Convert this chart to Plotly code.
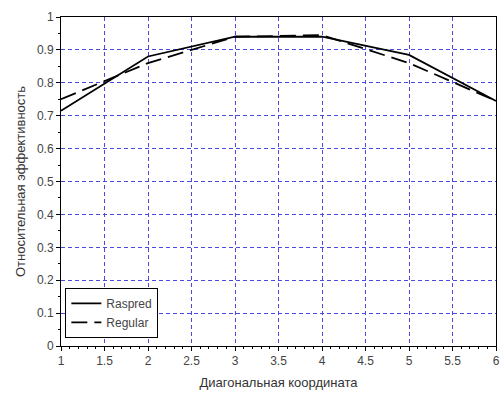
import plotly.graph_objects as go

x_vals = [1, 2, 3, 4, 5, 6]
raspred = [0.715, 0.88, 0.94, 0.94, 0.885, 0.745]
regular = [0.75, 0.86, 0.94, 0.945, 0.86, 0.745]
x_ticks = [1, 1.5, 2, 2.5, 3, 3.5, 4, 4.5, 5, 5.5, 6]
x_tick_text = ["1", "1.5", "2", "2.5", "3", "3.5", "4", "4.5", "5", "5.5", "6"]
y_ticks = [0, 0.1, 0.2, 0.3, 0.4, 0.5, 0.6, 0.7, 0.8, 0.9, 1]
y_tick_text = ["0", "0.1", "0.2", "0.3", "0.4", "0.5", "0.6", "0.7", "0.8", "0.9", "1"]

fig = go.Figure()
fig.add_trace(go.Scatter(x=x_vals, y=raspred, mode="lines", name="Raspred",
                         line=dict(color="black", width=1.8, dash="solid")))
fig.add_trace(go.Scatter(x=x_vals, y=regular, mode="lines", name="Regular",
                         line=dict(color="black", width=1.8, dash="16px,7px")))

font = dict(family="Liberation Sans, Arial, sans-serif", size=12, color="#444444")
tfont = dict(family="Liberation Sans, Arial, sans-serif", size=13, color="#333333")

fig.update_layout(
    width=503, height=395,
    margin=dict(l=61, r=7, t=17, b=49),
    paper_bgcolor="white", plot_bgcolor="white",
    font=font,
    showlegend=True,
    legend=dict(x=0.01, y=0.025, xanchor="left", yanchor="bottom",
                bgcolor="white", bordercolor="black", borderwidth=1,
                font=dict(family="Liberation Sans, Arial, sans-serif", size=12, color="#444444"),
                itemwidth=30, tracegroupgap=2),
    xaxis=dict(range=[1, 6], tickvals=x_ticks, ticktext=x_tick_text, automargin=False,
               showgrid=True, gridcolor="#4a4ae0", griddash="4px,3px", gridwidth=1,
               showline=True, linecolor="black", linewidth=1, mirror=True,
               ticks="outside", ticklen=4, tickcolor="black",
               minor=dict(dtick=0.1, ticks="outside", ticklen=2, tickcolor="black", showgrid=False),
               zeroline=False,
               title=dict(text="Диагональная координата", standoff=10, font=tfont)),
    yaxis=dict(range=[0, 1], tickvals=y_ticks, ticktext=y_tick_text, automargin=False,
               showgrid=True, gridcolor="#4a4ae0", griddash="4px,3px", gridwidth=1,
               showline=True, linecolor="black", linewidth=1, mirror=True,
               ticks="outside", ticklen=4, tickcolor="black",
               minor=dict(dtick=0.05, ticks="outside", ticklen=2, tickcolor="black", showgrid=False),
               zeroline=False,
               title=dict(text="Относительная эффективность", standoff=8, font=tfont)),
)

fig.write_html("out.html")
